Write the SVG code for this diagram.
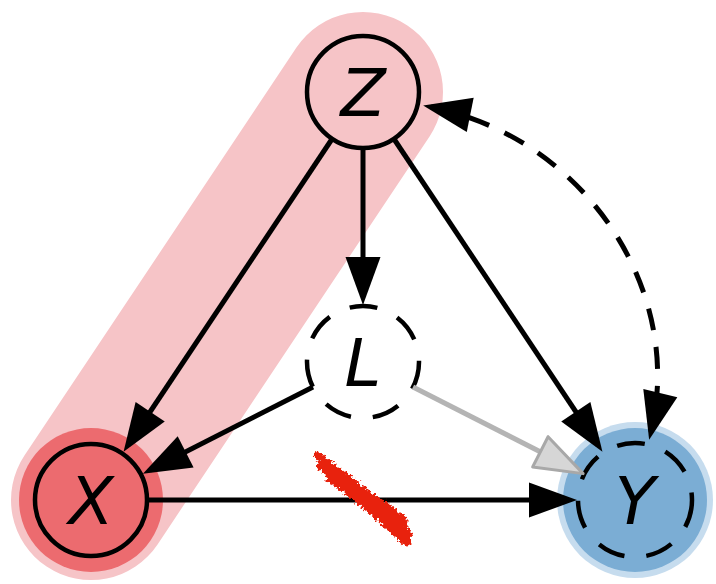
<svg xmlns="http://www.w3.org/2000/svg" width="716" height="584" viewBox="0 0 716 584">
  <style>
    .ring { stroke: #000; stroke-width: 4.5; }
    .dashed { stroke-dasharray: 28 22; }
    .lbl { font-family: "DejaVu Sans", "Liberation Sans", sans-serif; font-style: italic; font-size: 66px; fill: #000; text-anchor: middle; }
    .edge { fill: none; stroke: #000; stroke-width: 5; }
    .tip { fill: #000; }
  </style>
  <defs>
    <marker id="arrow" markerUnits="userSpaceOnUse" viewBox="-2 -20 52 40" markerWidth="52" markerHeight="40" refX="40" refY="0" orient="auto-start-reverse">
      <path class="tip" d="M48,0 L0,-17.5 L0,17.5 Z"/>
    </marker>
    <marker id="arrowGrey" markerUnits="userSpaceOnUse" viewBox="-4 -22 56 44" markerWidth="56" markerHeight="44" refX="40" refY="0" orient="auto">
      <path d="M48,0 L0,-17 L0,17 Z" fill="#d6d6d6" stroke="#a8a8a8" stroke-width="3" stroke-linejoin="round"/>
    </marker>
    <filter id="rough" x="-20%" y="-20%" width="140%" height="140%">
      <feTurbulence type="fractalNoise" baseFrequency="0.35" numOctaves="2" seed="4" result="n"/>
      <feDisplacementMap in="SourceGraphic" in2="n" scale="8" xChannelSelector="R" yChannelSelector="G"/>
    </filter>
  </defs>

  <!-- adjustment set {Z, X} -->
  <line x1="363" y1="92" x2="91" y2="500" stroke="#f6c4c7" stroke-width="160" stroke-linecap="round"/>

  <g id="node-X">
    <circle cx="91" cy="500" r="72" fill="#ec6b6f"/>
    <circle class="ring" cx="91" cy="500" r="56" fill="none"/>
    <text class="lbl" x="91" y="524">X</text>
  </g>

  <g id="node-Y">
    <circle cx="635" cy="500" r="78" fill="#c6dcee"/>
    <circle cx="635" cy="500" r="72" fill="#7badd4"/>
    <circle class="ring dashed" cx="635" cy="500" r="57" fill="none"/>
    <text class="lbl" x="635" y="524">Y</text>
  </g>

  <g id="node-Z">
    <circle class="ring" cx="363" cy="92" r="56" fill="#f6c4c7"/>
    <text class="lbl" x="363" y="116">Z</text>
  </g>

  <g id="node-L">
    <circle class="ring dashed" cx="363" cy="362" r="56" fill="#fff"/>
    <text class="lbl" x="363" y="386">L</text>
  </g>

  <g id="connectors">
    <line class="edge" x1="332" y1="139" x2="128" y2="445" marker-end="url(#arrow)"/>
    <line class="edge" x1="363" y1="148" x2="363" y2="297" marker-end="url(#arrow)"/>
    <line class="edge" x1="394" y1="139" x2="598" y2="445" marker-end="url(#arrow)"/>
    <line class="edge" x1="313" y1="387" x2="150" y2="470" marker-end="url(#arrow)"/>
    <line x1="413" y1="387" x2="576" y2="470" stroke="#b4b4b4" stroke-width="5" marker-end="url(#arrowGrey)"/>
    <line class="edge" x1="147" y1="500" x2="569" y2="500" marker-end="url(#arrow)"/>
    <path class="edge" d="M431,107 C585,138 685,290 651,432" stroke-dasharray="22 17" marker-start="url(#arrow)" marker-end="url(#arrow)"/>
  </g>

  <!-- strike-through on the X to Y effect -->
  <g filter="url(#rough)" stroke="#e8230f" stroke-linecap="round" fill="none">
    <line x1="318" y1="456" x2="372" y2="498" stroke-width="8"/>
    <line x1="322" y1="466" x2="392" y2="512" stroke-width="10"/>
    <line x1="333" y1="476" x2="400" y2="522" stroke-width="15"/>
    <line x1="350" y1="490" x2="405" y2="534" stroke-width="13"/>
    <line x1="376" y1="514" x2="407" y2="542" stroke-width="9"/>
  </g>
</svg>
